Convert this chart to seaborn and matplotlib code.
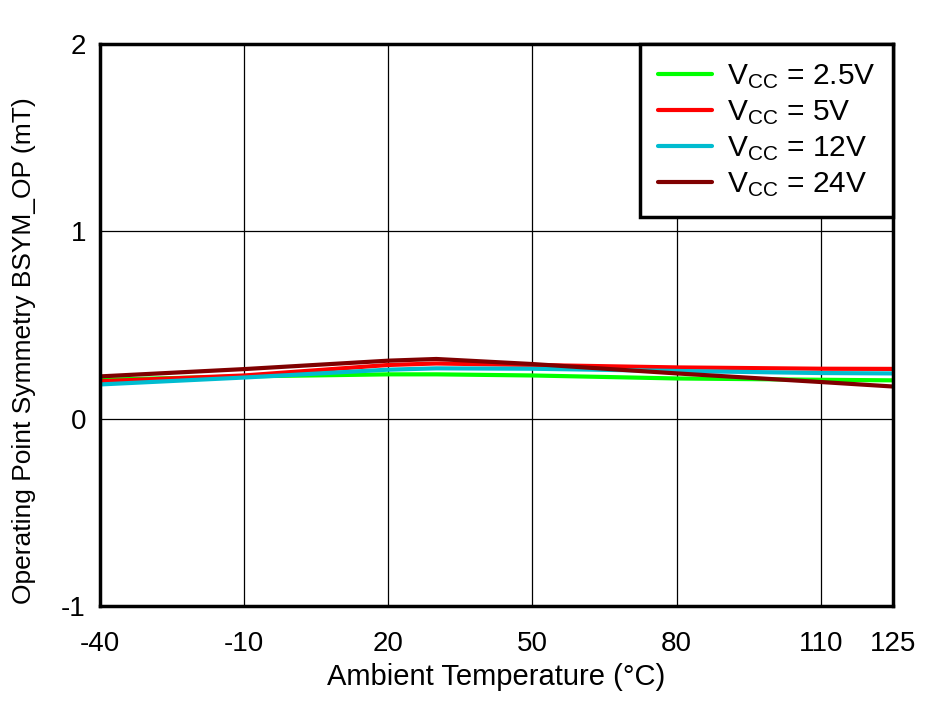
import pandas as pd
import matplotlib
matplotlib.use("Agg")
import matplotlib.pyplot as plt
import seaborn as sns

# Data
temps = [-40, -10, 20, 30, 50, 80, 110, 125]
bsym_2v5 = [0.208, 0.226, 0.237, 0.237, 0.231, 0.215, 0.208, 0.205]
bsym_5v = [0.200, 0.231, 0.287, 0.295, 0.287, 0.274, 0.267, 0.266]
bsym_12v = [0.183, 0.220, 0.262, 0.269, 0.267, 0.255, 0.244, 0.242]
bsym_24v = [0.226, 0.265, 0.310, 0.319, 0.292, 0.242, 0.196, 0.172]

labels = [r"V$_{\mathregular{CC}}$ = 2.5V", r"V$_{\mathregular{CC}}$ = 5V",
          r"V$_{\mathregular{CC}}$ = 12V", r"V$_{\mathregular{CC}}$ = 24V"]
colors = ["#00ff00", "#ff0000", "#00bcd0", "#800000"]

x_ticks = [-40, -10, 20, 50, 80, 110, 125]
y_ticks = [-1, 0, 1, 2]

rows = []
for lab, vals in zip(labels, [bsym_2v5, bsym_5v, bsym_12v, bsym_24v]):
    for t, v in zip(temps, vals):
        rows.append({"temp": t, "bsym": v, "series": lab})
df = pd.DataFrame(rows)

sns.set_style("white")
plt.rcParams["font.family"] = ["Liberation Sans", "DejaVu Sans"]
plt.rcParams["mathtext.fontset"] = "custom"
plt.rcParams["mathtext.rm"] = "Liberation Sans"
plt.rcParams["mathtext.it"] = "Liberation Sans"
plt.rcParams["axes.unicode_minus"] = False
plt.rcParams["text.color"] = "black"
plt.rcParams["axes.labelcolor"] = "black"
plt.rcParams["xtick.color"] = "black"
plt.rcParams["ytick.color"] = "black"

fig = plt.figure(figsize=(9.42, 7.01), dpi=100)
ax = fig.add_axes([0.106, 0.1355, 0.842, 0.8015])

sns.lineplot(data=df, x="temp", y="bsym", hue="series", palette=colors,
             linewidth=3, ax=ax)

ax.set_xlim(-40, 125)
ax.set_ylim(-1, 2)
ax.set_xticks(x_ticks)
ax.set_yticks(y_ticks)
ax.grid(True, color="black", linewidth=0.9)
ax.tick_params(axis="x", labelsize=20, length=0, pad=18)
ax.tick_params(axis="y", labelsize=20, length=0, pad=10)
for s in ax.spines.values():
    s.set_linewidth(2.5)
    s.set_color("black")

ax.set_xlabel("Ambient Temperature (°C)", fontsize=21, labelpad=4)
ax.set_ylabel("Operating Point Symmetry BSYM_OP (mT)", fontsize=19)
ax.yaxis.set_label_coords(-0.081, 0.455)

leg = ax.legend(loc="upper right", fontsize=21.5, frameon=True, fancybox=False,
                framealpha=1, borderaxespad=0, handlelength=1.8,
                labelspacing=0.24, borderpad=0.6, handletextpad=0.5)
leg.get_frame().set_edgecolor("black")
leg.get_frame().set_linewidth(2.5)

fig.savefig("out.png", dpi=100)
